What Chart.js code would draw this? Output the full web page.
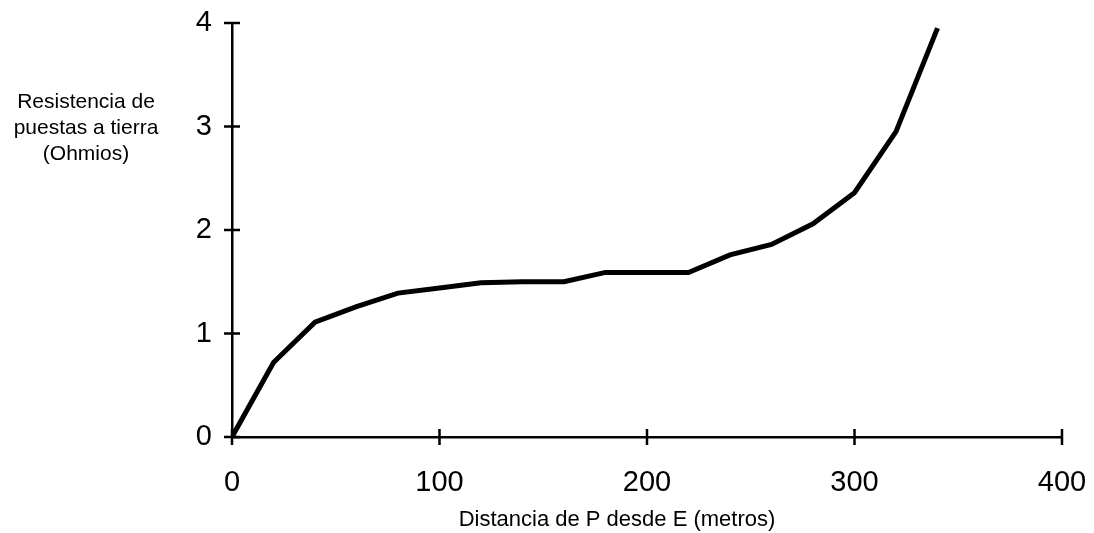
<!DOCTYPE html>
<html>
<head>
<meta charset="utf-8">
<script src="https://cdn.jsdelivr.net/npm/chart.js@4"></script>
<style>
  html, body { margin: 0; padding: 0; background: #fff; }
  #chart { display: block; }
</style>
</head>
<body>
<canvas id="chart" width="1094" height="533"></canvas>
<script>
// distancia (m) y resistencia (ohmios)
const distancias = [0, 20, 40, 60, 80, 100, 120, 140, 160, 180, 200, 220, 240, 260, 280, 300, 320, 340];
const resistencias = [0, 0.72, 1.11, 1.26, 1.39, 1.44, 1.49, 1.50, 1.50, 1.59, 1.59, 1.59, 1.76, 1.86, 2.06, 2.36, 2.95, 3.95];
const xTicks = [0, 100, 200, 300, 400];
const yTicks = [0, 1, 2, 3, 4];
const yTitle = ["Resistencia de", "puestas a tierra", "(Ohmios)"];
const xTitle = "Distancia de P desde E (metros)";

const FONT = "'Liberation Sans', Arial, sans-serif";

// tick marks that cross the axis, plus the two axis titles
const axisExtras = {
  id: "axisExtras",
  afterDraw(chart) {
    const ctx = chart.ctx;
    const x = chart.scales.x, y = chart.scales.y;
    const area = chart.chartArea;
    ctx.save();
    ctx.strokeStyle = "#000";
    ctx.lineWidth = 2.5;
    ctx.beginPath();
    xTicks.forEach((v) => {
      const px = x.getPixelForValue(v);
      ctx.moveTo(px, area.bottom - 8);
      ctx.lineTo(px, area.bottom + 8);
    });
    yTicks.forEach((v) => {
      const py = y.getPixelForValue(v);
      ctx.moveTo(area.left - 8, py);
      ctx.lineTo(area.left + 8, py);
    });
    ctx.stroke();

    ctx.fillStyle = "#000";
    ctx.textAlign = "center";
    ctx.textBaseline = "middle";
    ctx.font = "21px " + FONT;
    yTitle.forEach((line, i) => ctx.fillText(line, 86, 102 + i * 26));
    ctx.font = "22px " + FONT;
    ctx.fillText(xTitle, 617, 520);
    ctx.restore();
  },
};

new Chart(document.getElementById("chart"), {
  type: "line",
  data: {
    datasets: [
      {
        data: distancias.map((d, i) => ({ x: d, y: resistencias[i] })),
        borderColor: "#000",
        borderWidth: 5,
        pointRadius: 0,
        tension: 0,
        fill: false,
      },
    ],
  },
  options: {
    responsive: false,
    animation: false,
    layout: { padding: { top: 23, right: 32, left: 0, bottom: 0 } },
    plugins: { legend: { display: false }, tooltip: { enabled: false } },
    scales: {
      x: {
        type: "linear",
        min: 0,
        max: 400,
        afterBuildTicks: (s) => { s.ticks = xTicks.map((v) => ({ value: v })); },
        afterFit: (s) => { s.height = 96; s.paddingLeft = 0; s.paddingRight = 0; },
        grid: { display: false },
        border: { display: true, color: "#000", width: 2.5 },
        ticks: { color: "#000", padding: 21, font: { family: FONT, size: 29 } },
      },
      y: {
        min: 0,
        max: 4,
        afterBuildTicks: (s) => { s.ticks = yTicks.map((v) => ({ value: v })); },
        afterFit: (s) => { s.width = 232; s.paddingTop = 0; s.paddingBottom = 0; },
        grid: { display: false },
        border: { display: true, color: "#000", width: 2.5 },
        ticks: { color: "#000", padding: 12, font: { family: FONT, size: 29 } },
      },
    },
  },
  plugins: [axisExtras],
});
</script>
</body>
</html>
